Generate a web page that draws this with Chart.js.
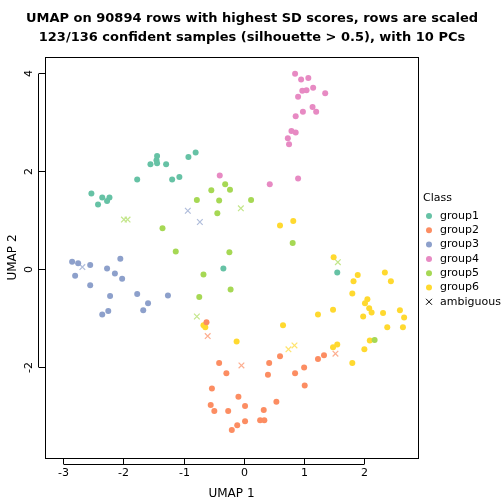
<!DOCTYPE html>
<html><head><meta charset="utf-8">
<script src="https://cdn.jsdelivr.net/npm/chart.js@4"></script>
<style>html,body{margin:0;padding:0;background:#fff}</style>
</head><body><div style="width:504px;height:504px"><canvas id="c" width="504" height="504"></canvas></div>
<script>
const group1=[[-1.44,2.31],[-1.45,2.22],[-1.55,2.14],[-1.44,2.16],[-1.29,2.14],[-0.92,2.29],[-0.80,2.38],[-1.77,1.83],[-1.19,1.83],[-1.07,1.88],[-2.53,1.54],[-2.35,1.46],[-2.23,1.46],[-2.27,1.39],[-2.42,1.32],[-0.34,0.01],[1.55,-0.07]];
const group2=[[-0.62,-1.09],[-0.41,-1.92],[-0.29,-2.13],[0.42,-1.92],[0.40,-2.16],[0.60,-1.78],[1.00,-2.01],[0.85,-2.13],[1.01,-2.38],[1.23,-1.84],[1.33,-1.76],[-0.53,-2.44],[-0.09,-2.61],[-0.55,-2.78],[-0.49,-2.90],[-0.26,-2.90],[0.02,-2.80],[-0.11,-3.19],[-0.20,-3.29],[0.02,-3.11],[0.33,-2.88],[0.27,-3.09],[0.34,-3.09],[0.54,-2.71]];
const group3=[[-2.85,0.15],[-2.75,0.12],[-2.55,0.08],[-2.80,-0.14],[-2.55,-0.33],[-2.05,0.21],[-2.27,0.01],[-2.14,-0.09],[-2.02,-0.20],[-2.22,-0.55],[-1.77,-0.51],[-1.59,-0.70],[-1.67,-0.84],[-1.26,-0.54],[-2.35,-0.93],[-2.25,-0.86]];
const group4=[[0.85,3.99],[0.95,3.87],[1.07,3.90],[0.97,3.64],[1.04,3.65],[1.15,3.70],[1.35,3.59],[0.90,3.52],[1.14,3.31],[0.98,3.21],[1.20,3.21],[0.86,3.12],[0.79,2.82],[0.86,2.79],[0.73,2.67],[0.75,2.55],[0.90,1.85],[0.43,1.73],[-0.40,1.91]];
const group5=[[-0.31,1.73],[-0.23,1.62],[-0.54,1.61],[-0.78,1.41],[-0.41,1.40],[0.12,1.41],[-0.44,1.14],[-1.35,0.83],[-1.13,0.36],[-0.24,0.34],[-0.67,-0.11],[-0.22,-0.42],[-0.74,-0.57],[0.81,0.53],[2.17,-1.45]];
const group6=[[1.49,0.24],[1.89,-0.12],[1.82,-0.25],[2.34,-0.07],[2.44,-0.25],[1.80,-0.50],[2.05,-0.62],[2.01,-0.70],[2.08,-0.80],[2.12,-0.89],[2.31,-0.90],[1.98,-0.97],[2.59,-0.84],[2.66,-0.99],[2.38,-1.19],[2.64,-1.19],[1.48,-0.83],[1.23,-0.93],[0.65,-1.15],[-0.12,-1.48],[2.09,-1.46],[2.00,-1.64],[1.55,-1.54],[1.48,-1.60],[1.80,-1.92],[-0.67,-1.15],[-0.64,-1.19],[0.60,0.89],[0.82,0.98]];
const ambiguous=[[-2.68,0.04,3],[-0.93,1.19,3],[-0.73,0.96,3],[-1.99,1.01,5],[-1.93,1.01,5],[-0.05,1.24,5],[-0.78,-0.97,5],[1.56,0.14,5],[-0.60,-1.37,2],[-0.04,-1.97,2],[0.74,-1.64,6],[0.84,-1.56,6],[1.52,-1.73,2]];
const groupNames=['group1','group2','group3','group4','group5','group6'];
const colors=['#66C2A5','#FC8D62','#8DA0CB','#E78AC3','#A6D854','#FFD92F'];
const lightColors=['#9CD6C3','#FDAE90','#B0BDDB','#EEAFD5','#C3E68A','#FFE46E'];
const xTicks=[-3,-2,-1,0,1,2];
const yTicks=[-2,0,2,4];
const groups=[group1,group2,group3,group4,group5,group6];
const datasets=groups.map((g,i)=>({label:groupNames[i],data:g.map(p=>({x:p[0],y:p[1]})),pointStyle:'circle',pointRadius:3,backgroundColor:colors[i],borderColor:colors[i],borderWidth:0}));
datasets.push({label:'ambiguous',data:ambiguous.map(p=>({x:p[0],y:p[1]})),pointStyle:'crossRot',pointRadius:4,borderWidth:1.2,borderColor:ambiguous.map(p=>lightColors[p[2]-1]),backgroundColor:'transparent'});
const deco={id:'deco',afterDraw(ch){
 const c=ch.ctx,a=ch.chartArea,xs=ch.scales.x,ys=ch.scales.y;
 c.save();c.strokeStyle='#000';c.lineWidth=1;c.fillStyle='#000';
 c.strokeRect(a.left+0.5,a.top+0.5,a.right-a.left,a.bottom-a.top);
 c.font='11px "DejaVu Sans"';
 c.textAlign='center';c.textBaseline='top';
 c.beginPath();
 xTicks.forEach(t=>{const p=Math.round(xs.getPixelForValue(t))+0.5;c.moveTo(p,a.bottom);c.lineTo(p,a.bottom+6);c.fillText(String(t),p,a.bottom+10);});
 c.moveTo(Math.round(xs.getPixelForValue(xTicks[0]))+0.5,a.bottom+6.5);c.lineTo(Math.round(xs.getPixelForValue(xTicks[xTicks.length-1]))+0.5,a.bottom+6.5);
 yTicks.forEach(t=>{const p=Math.round(ys.getPixelForValue(t))+0.5;c.moveTo(a.left,p);c.lineTo(a.left-6,p);
  c.save();c.translate(a.left-16,p);c.rotate(-Math.PI/2);c.textBaseline='middle';c.fillText(String(t),0,0);c.restore();});
 c.moveTo(a.left-6.5,Math.round(ys.getPixelForValue(yTicks[0]))+0.5);c.lineTo(a.left-6.5,Math.round(ys.getPixelForValue(yTicks[yTicks.length-1]))+0.5);
 c.stroke();
 c.font='12px "DejaVu Sans"';c.textAlign='center';c.textBaseline='middle';
 c.fillText('UMAP 1',(a.left+a.right)/2,494);
 c.save();c.translate(13,(a.top+a.bottom)/2);c.rotate(-Math.PI/2);c.fillText('UMAP 2',0,0);c.restore();
 c.font='bold 13px "DejaVu Sans"';
 c.fillText('UMAP on 90894 rows with highest SD scores, rows are scaled',252,19);
 c.fillText('123/136 confident samples (silhouette > 0.5), with 10 PCs',252,38);
 c.font='11px "DejaVu Sans"';c.textAlign='left';
 c.fillText('Class',423,198);
 groupNames.concat(['ambiguous']).forEach((n,i)=>{const y=216+i*14.3;
  if(i<6){c.fillStyle=colors[i];c.beginPath();c.arc(429,y,3,0,Math.PI*2);c.fill();}
  else{c.strokeStyle='#000';c.beginPath();c.moveTo(426,y-3);c.lineTo(432,y+3);c.moveTo(426,y+3);c.lineTo(432,y-3);c.stroke();}
  c.fillStyle='#000';c.fillText(n,440,y);});
 c.restore();}};
new Chart(document.getElementById('c'),{type:'scatter',data:{datasets},plugins:[deco],
options:{responsive:false,animation:false,devicePixelRatio:1,layout:{padding:{left:45,right:86,top:57,bottom:46}},
plugins:{legend:{display:false},tooltip:{enabled:false}},
scales:{x:{type:'linear',display:false,min:-3.30,max:2.89},y:{type:'linear',display:false,min:-3.86,max:4.33}}}});
</script></body></html>
